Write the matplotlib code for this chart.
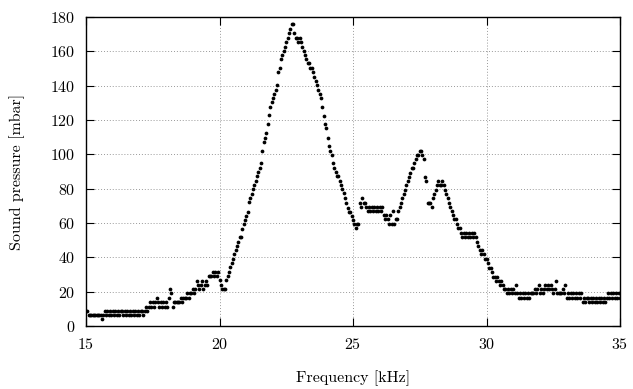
import matplotlib
matplotlib.use("Agg")
import matplotlib.pyplot as plt
import numpy as np

# frequency grid in kHz, 0.05 kHz steps from 15 to 35
freq_start = 15.0
freq_step = 0.05

# sound pressure readings in mbar, one block per kHz (20 samples each)
p_15 = [8.8, 8.8, 6.4, 6.4, 6.4, 6.4, 6.4, 6.4, 6.4, 6.4,
        6.4, 6.4, 4.0, 6.4, 8.8, 6.4, 8.8, 6.4, 8.8, 6.4]
p_16 = [8.8, 6.4, 8.8, 6.4, 8.8, 6.4, 8.8, 8.8, 6.4, 8.8,
        6.4, 8.8, 6.4, 8.8, 6.4, 8.8, 6.4, 8.8, 6.4, 8.8]
p_17 = [6.4, 8.8, 8.8, 6.4, 8.8, 11.3, 8.8, 11.3, 13.8, 11.3,
        13.8, 11.3, 13.8, 16.5, 13.8, 11.3, 13.8, 11.3, 13.8, 11.3]
p_18 = [13.8, 11.3, 16.5, 21.4, 19.0, 11.3, 13.8, 13.8, 13.8, 13.8,
        13.8, 16.5, 13.8, 16.5, 16.5, 16.5, 19.0, 16.5, 19.0, 19.0]
p_19 = [21.4, 19.0, 21.4, 26.4, 24.0, 21.4, 24.0, 26.4, 21.4, 24.0,
        26.4, 24.0, 29.1, 29.1, 29.1, 31.6, 29.1, 31.6, 29.1, 31.6]
p_20 = [26.8, 23.9, 21.5, 21.5, 21.5, 26.8, 29.1, 31.6, 34.1, 36.5,
        39.0, 41.7, 44.2, 46.6, 49.1, 51.7, 51.7, 56.7, 59.2, 61.7]
p_21 = [64.2, 66.6, 72.0, 74.4, 76.9, 79.6, 82.1, 84.6, 87.4, 89.9,
        92.2, 94.7, 102.0, 107.3, 109.7, 112.2, 117.4, 122.9, 127.7, 130.3]
p_22 = [132.6, 135.1, 137.4, 140.4, 147.7, 150.4, 155.3, 157.8, 160.2, 162.7,
        165.3, 167.9, 170.5, 173.0, 175.7, 175.7, 170.5, 167.9, 167.9, 165.6]
p_23 = [167.9, 165.6, 162.7, 160.2, 157.8, 155.3, 153.0, 153.0, 150.4, 150.4,
        147.7, 145.2, 142.7, 140.4, 137.7, 135.1, 132.6, 127.7, 122.4, 117.4]
p_24 = [115.1, 109.7, 104.8, 102.1, 99.6, 94.7, 92.2, 89.9, 87.4, 87.4,
        84.6, 82.1, 79.6, 77.3, 74.8, 71.8, 69.0, 66.6, 66.6, 64.0]
p_25 = [61.7, 59.2, 56.9, 59.2, 59.2, 71.8, 69.5, 74.4, 71.8, 71.8,
        69.5, 67.0, 69.5, 67.0, 69.5, 67.0, 69.5, 67.0, 69.5, 67.0]
p_26 = [69.5, 67.0, 69.5, 64.5, 62.1, 64.5, 62.1, 59.4, 64.5, 59.4,
        67.0, 59.4, 62.1, 62.1, 67.0, 69.5, 71.8, 74.4, 76.9, 79.2]
p_27 = [82.1, 84.6, 87.0, 89.3, 92.2, 92.2, 94.7, 97.0, 99.6, 99.6,
        102.1, 102.1, 99.6, 97.0, 87.0, 84.6, 71.8, 71.8, 71.8, 69.5]
p_28 = [74.4, 76.9, 79.2, 82.1, 84.6, 82.1, 82.1, 84.6, 82.1, 79.2,
        76.9, 74.4, 71.8, 69.5, 67.0, 64.5, 62.1, 62.1, 59.4, 56.9]
p_29 = [56.9, 54.0, 51.7, 54.0, 51.7, 54.0, 51.7, 54.0, 51.7, 54.0,
        51.7, 54.0, 51.7, 49.1, 46.7, 44.2, 41.9, 44.2, 41.9, 39.0]
p_30 = [39.0, 36.5, 34.0, 34.0, 31.3, 28.7, 28.7, 26.4, 28.7, 26.4,
        23.9, 26.4, 23.9, 21.4, 21.4, 19.0, 21.4, 19.0, 21.4, 19.0]
p_31 = [21.4, 19.0, 23.9, 19.0, 16.1, 19.0, 16.1, 19.0, 16.1, 19.0,
        16.1, 19.0, 16.1, 19.0, 19.0, 19.0, 21.4, 19.0, 21.4, 23.9]
p_32 = [19.0, 21.4, 19.0, 21.4, 23.9, 21.4, 23.9, 21.4, 23.9, 21.4,
        19.0, 21.4, 26.4, 19.0, 19.0, 19.0, 19.0, 21.4, 19.0, 23.9]
p_33 = [16.1, 19.0, 16.1, 19.0, 16.1, 19.0, 16.1, 19.0, 16.1, 19.0,
        16.1, 19.0, 13.8, 16.1, 13.8, 16.1, 16.1, 13.8, 16.1, 13.8]
p_34 = [16.1, 13.8, 16.1, 13.8, 16.1, 13.8, 16.1, 13.8, 16.1, 13.8,
        16.1, 19.0, 16.1, 19.0, 16.1, 19.0, 16.1, 19.0, 16.1, 19.0]
p_35 = [16.1]

pressure = np.array(p_15 + p_16 + p_17 + p_18 + p_19 + p_20 + p_21 + p_22
                    + p_23 + p_24 + p_25 + p_26 + p_27 + p_28 + p_29 + p_30
                    + p_31 + p_32 + p_33 + p_34 + p_35)
freq = freq_start + freq_step * np.arange(len(pressure))

xticks = [15, 20, 25, 30, 35]
yticks = [0, 20, 40, 60, 80, 100, 120, 140, 160, 180]

plt.rcParams["font.family"] = "cmr10"
plt.rcParams["axes.formatter.use_mathtext"] = True
plt.rcParams["font.size"] = 11.5

fig = plt.figure(figsize=(6.33, 3.89), dpi=100)
ax = fig.add_axes([86 / 633, 63 / 389, 534 / 633, 309 / 389])

ax.plot(freq, pressure, "o", color="black", ms=2.7, mew=0)

ax.set_xlim(15, 35)
ax.set_ylim(0, 180)
ax.set_xticks(xticks)
ax.set_yticks(yticks)
ax.grid(True, color="#999999", linestyle=(0, (1, 2)), linewidth=0.7)
ax.tick_params(direction="in", length=6, width=0.8, top=True, right=True, pad=8)
for sp in ax.spines.values():
    sp.set_linewidth(1.0)

ax.set_xlabel("Frequency [kHz]", labelpad=13)
ax.set_ylabel("Sound pressure [mbar]", labelpad=18)

fig.savefig("out.png", dpi=100)
